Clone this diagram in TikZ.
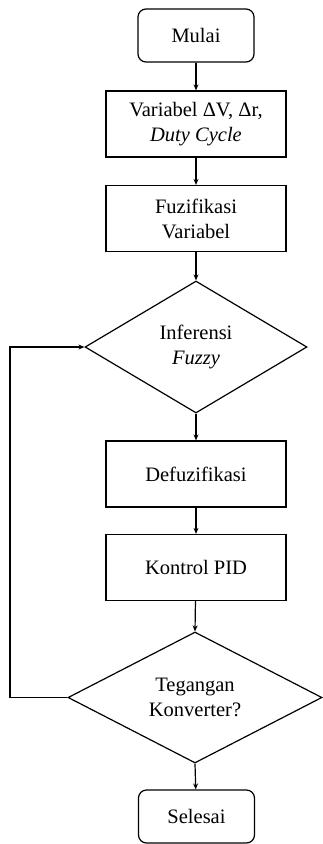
\documentclass[tikz,border=0pt]{standalone}
\usepackage{fontspec}
\setmainfont{Liberation Serif}
\usetikzlibrary{shapes.geometric,arrows.meta}
\begin{document}
\begin{tikzpicture}[x=1pt,y=-1pt,
  every node/.style={font=\fontsize{20.5}{25}\selectfont, align=center, inner sep=0pt},
  term/.style={draw, line width=1.2pt, rounded corners=8pt, minimum width=116pt, minimum height=53pt},
  proc/.style={draw, line width=1.2pt, minimum width=180pt, minimum height=66pt},
  dec/.style={draw, line width=1.2pt, diamond},
  conn/.style={line width=1.2pt, -{Stealth[length=6pt,width=5pt]}}]
\useasboundingbox (0,0) rectangle (323,844);
\node[term] (start) at (196,35.5) {Mulai};
\node[proc] (var) at (196,124) {Variabel ΔV, Δr,\\\textit{Duty Cycle}};
\node[proc] (fuz) at (196,218.5) {Fuzifikasi\\Variabel};
\node[dec, minimum width=222pt, minimum height=132pt] (inf) at (196,347) {Inferensi\\\textit{Fuzzy}};
\node[proc] (def) at (196,474) {Defuzifikasi};
\node[proc] (pid) at (196,567.5) {Kontrol PID};
\node[dec, minimum width=254pt, minimum height=131pt] (teg) at (195,697.5) {Tegangan\\Konverter?};
\node[term] (end) at (196.5,816.5) {Selesai};
\coordinate (lb) at (10,697.5);
\coordinate (lt) at (10,347);
\draw[conn] (start) -- (var);
\draw[conn] (var) -- (fuz);
\draw[conn] (fuz) -- (inf);
\draw[conn] (inf) -- (def);
\draw[conn] (def) -- (pid);
\draw[conn] (pid) -- (teg.north);
\draw[conn] (teg.south) -- (end);
\draw[conn] (teg.west) -- (lb) -- (lt) -- (inf.west);
\end{tikzpicture}
\end{document}
